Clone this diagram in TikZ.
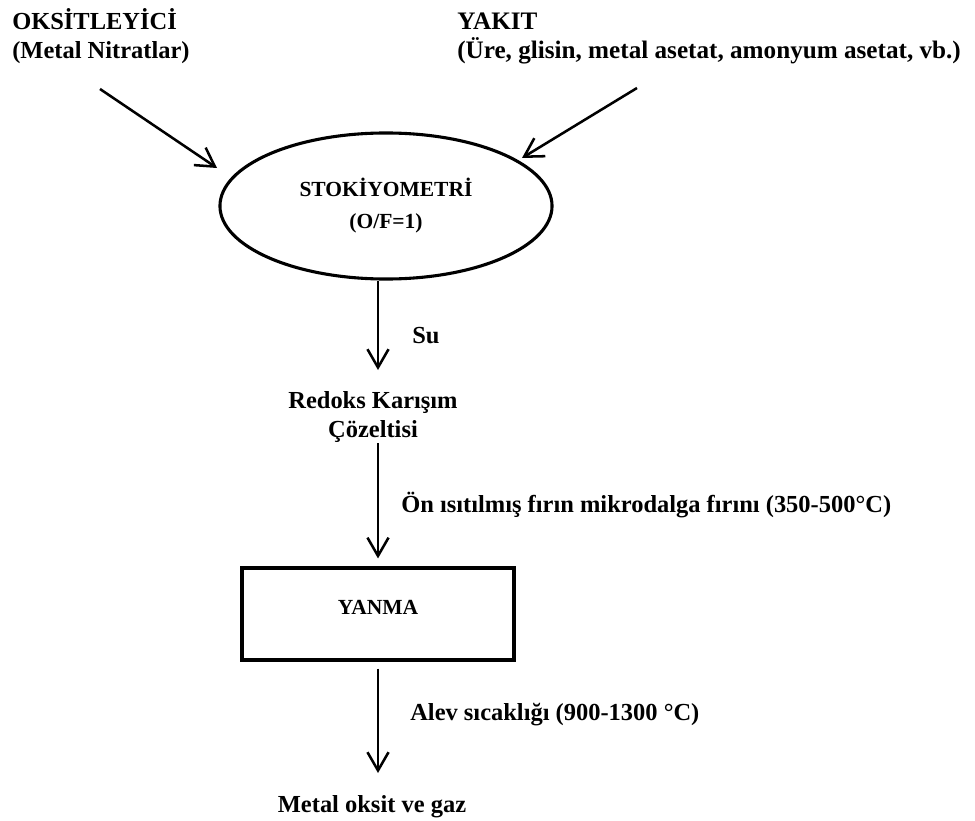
\documentclass[tikz,border=0pt]{standalone}
\usepackage{fontspec}
\setmainfont{Liberation Serif}
\usetikzlibrary{shapes.geometric,arrows.meta}
\begin{document}
\begin{tikzpicture}[x=0.025cm,y=-0.025cm,
    every node/.style={font=\fontsize{17.4pt}{21pt}\selectfont\bfseries,inner sep=0pt},
    inbox/.style={font=\fontsize{15.3pt}{22.7pt}\selectfont\bfseries,line width=2.2pt,draw=black},
    arr/.style={line width=1.8pt,-{Straight Barb[length=13pt,width=15pt]}}]
  \useasboundingbox (0,0) rectangle (975,821);
  \draw
    (12,59) node[anchor=base west,align=left] (oks){OKSİTLEYİCİ\\(Metal Nitratlar)}
    (457,59) node[anchor=base west,align=left,font=\fontsize{17.9pt}{21pt}\selectfont\bfseries] (yakit){YAKIT\\(Üre, glisin, metal asetat, amonyum asetat, vb.)}
    (386,206) node[inbox,shape=ellipse,minimum width=8.3cm,minimum height=3.65cm,align=center] (stk){STOKİYOMETRİ\\(O/F=1)}
    (412,343) node[anchor=base west] (su){Su}
    (373,417) node[align=center] (rdx){Redoks Karışım\\Çözeltisi}
    (401,512) node[anchor=base west] (isit){Ön ısıtılmış fırın mikrodalga fırını (350-500°C)}
    (378,614) node[inbox,shape=rectangle,minimum width=6.8cm,minimum height=2.3cm,text height=10pt,text depth=9pt] (yanma){YANMA}
    (410,720) node[anchor=base west] (alev){Alev sıcaklığı (900-1300 °C)}
    (372,812) node[anchor=base] (mog){Metal oksit ve gaz};
  \coordinate (oa) at (100,89);
  \coordinate (ob) at (217,168);
  \coordinate (ya) at (637,88);
  \coordinate (yb) at (522,158);
  \coordinate (t1) at (378,370);
  \coordinate (t3) at (378,773);
  \begin{scope}[arr]
    \draw (oa) to (ob);
    \draw (ya) to (yb);
    \draw (stk.south -| yanma.north) to (t1);
    \draw[shorten >=5.7pt] (rdx.south -| yanma.north) to (yanma.north);
    \draw[shorten <=5pt] (yanma.south) to (t3);
  \end{scope}
\end{tikzpicture}
\end{document}
